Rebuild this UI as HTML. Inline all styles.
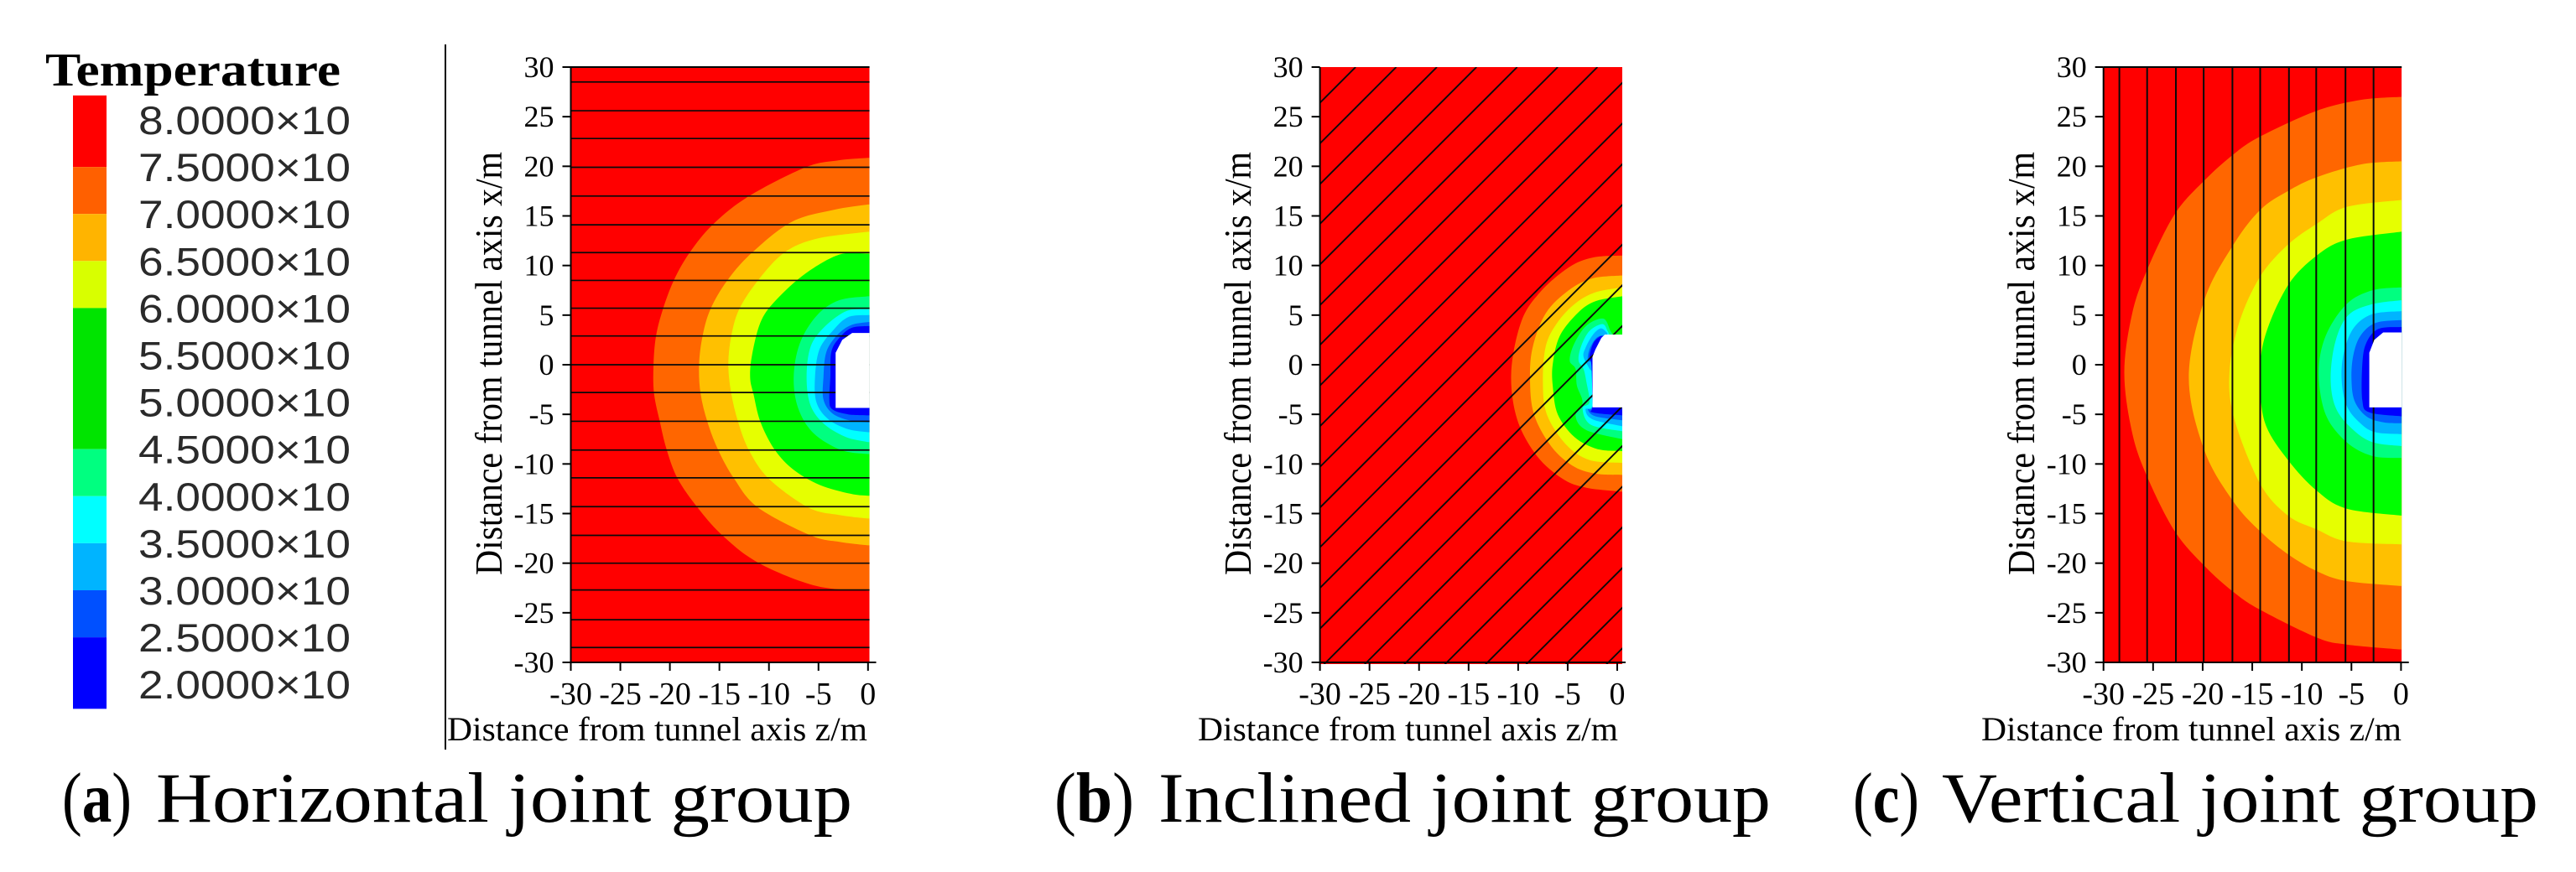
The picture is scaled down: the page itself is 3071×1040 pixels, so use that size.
<!DOCTYPE html>
<html lang="en">
<head>
<meta charset="utf-8">
<title>Temperature contours for joint groups</title>
<style>
html,body{margin:0;padding:0;background:#fff;width:3071px;height:1040px;overflow:hidden}
svg{display:block}
</style>
</head>
<body>
<svg id="figure" xmlns="http://www.w3.org/2000/svg" width="3071" height="1040" viewBox="0 0 3071 1040"></svg>
<script>
// ---- data (z = distance on x axis, x = distance on y axis, metres) ----
const tickValues = [-30,-25,-20,-15,-10,-5,0];
const yTickValues = [30,25,20,15,10,5,0,-5,-10,-15,-20,-25,-30];
const contourLevels = [75,70,65,60,45,40,35,30,25];
const legendLabels = ['8.0000×10','7.5000×10','7.0000×10','6.5000×10','6.0000×10','5.5000×10','5.0000×10','4.5000×10','4.0000×10','3.5000×10','3.0000×10','2.5000×10','2.0000×10'];
const legendValues = [80,75,70,65,60,55,50,45,40,35,30,25,20];
const legendEdges = [82.6,75,70,65,60,45,40,35,30,25,17.4];
const legendColors = ['#ff0000','#ff6000','#ffb400','#d8ff00','#00e400','#00ff80','#00ffff','#00b4ff','#0050ff','#0000ff'];
const bandColors = ['#ff6600','#ffc000','#e6ff00','#00ff00','#00ff80','#00ffff','#00b4ff','#0060ff','#0000ff'];

const horizontalJoints = [28.5,25.6,22.8,19.9,17,14.1,11.3,8.5,5.7,2.9,0,-2.8,-5.7,-8.6,-11.4,-14.3,-17.2,-20,-22.7,-25.7,-28.5];
const inclinedJoints = [56.4,52.3,48.2,44.2,40.1,36,32,27.9,23.8,19.7,15.6,11.6,7.5,3.4,-0.6,-4.7,-8.7,-12.8,-16.9,-21,-25,-29.1];
const verticalJoints = [-28.4,-25.6,-22.7,-19.9,-17,-14.2,-11.3,-8.55,-5.6,-2.77];

const contoursA = [
 [[0,20.85],[-3,20.6],[-6.3,19.9],[-12,17],[-15.6,14.2],[-18,11.3],[-19.6,8.5],[-20.7,5.6],[-21.4,2.9],[-21.65,0],[-21.6,-2.9],[-21,-5.8],[-20.3,-8.65],[-19.2,-11.5],[-17.2,-14.4],[-14.7,-17.2],[-11,-20],[-5.2,-22.3],[0,-22.8]],
 [[0,16.15],[-3.5,15.6],[-7.7,14.4],[-11.7,11.3],[-14.2,8.5],[-15.9,5.6],[-16.7,2.9],[-17.05,0],[-16.9,-2.9],[-16.2,-5.8],[-15.1,-8.65],[-13.5,-11.5],[-11.1,-14.4],[-5.8,-17.2],[-2.9,-17.85],[0,-18.2]],
 [[0,13.4],[-5.2,12.7],[-8.45,11.3],[-11.1,8.5],[-13,5.6],[-13.8,2.9],[-14.1,0],[-13.8,-2.9],[-13.1,-5.8],[-12,-8.65],[-10,-11.5],[-6,-14.4],[-2.9,-15.15],[0,-15.5]],
 [[0,11.2],[-2.9,11.1],[-6.3,9.2],[-9.2,6.6],[-10.8,4.4],[-11.7,1],[-11.9,-1.3],[-11.55,-3],[-10.85,-5.8],[-9.4,-8.6],[-7.5,-10.6],[-4.9,-12.1],[-1.8,-13],[0,-13.2]],
 [[0,6.9],[-2.95,6.48],[-5.2,4.93],[-6.9,2.1],[-7.5,-1.27],[-7.05,-4.37],[-5.5,-6.9],[-2.7,-8.6],[0,-9]],
 [[0,5.6],[-2.2,5.4],[-4.4,3.8],[-5.8,1.8],[-6.2,-1.27],[-5.8,-4.1],[-4.4,-6],[-2.2,-7.3],[0,-7.8]],
 [[0,5],[-2,4.8],[-3.5,3.5],[-4.9,1.55],[-5.35,-1.27],[-5.2,-3.8],[-4,-5.5],[-2,-6.5],[0,-6.8]],
 [[0,4.3],[-1.7,4],[-3.1,3],[-4.2,1.3],[-4.5,-1.27],[-4.5,-3.5],[-3.6,-4.9],[-1.9,-5.6],[0,-5.8]],
 [[0,3.9],[-1.7,3.7],[-2.9,2.7],[-3.7,1.3],[-3.8,-1.27],[-3.9,-3.5],[-3.6,-4.5],[-2,-5],[0,-5.1]]
];
const contoursB = [
 [[0.5,11],[-2.5,10.8],[-4.9,9.8],[-7.8,7.3],[-9.7,4.3],[-10.7,-0.8],[-10.1,-5.5],[-8.1,-9.2],[-5.5,-11.5],[-3.1,-12.4],[0.5,-12.8]],
 [[0.5,9],[-2.5,8.7],[-4.9,7.5],[-7.2,5.2],[-8.5,1.9],[-8.8,-1.3],[-8.4,-5],[-6.6,-8.3],[-4.3,-10.3],[-2,-11],[0.5,-11.1]],
 [[0.5,7.8],[-2.2,7.3],[-4.2,6.2],[-6,4.3],[-7.2,1.9],[-7.5,-1.8],[-7.1,-5],[-5.2,-8],[-2.8,-9.6],[0.5,-9.9]],
 [[0.5,6.9],[-2.2,6.4],[-4,5.2],[-5.8,2.9],[-6.5,0.1],[-6.5,-2.2],[-6,-5],[-4.3,-7.3],[-2,-8.5],[0.5,-8.7]],
 [[-0.4,3],[-0.68,3.4],[-1.4,4.65],[-3.1,3.95],[-4.35,2.1],[-4.8,0.42],[-4.2,-0.42],[-4.07,-2.1],[-3.5,-3.8],[-4.2,-5.2],[-3.1,-6.6],[0.5,-7.5]],
 [[-0.8,3],[-0.97,3.4],[-1.5,4.1],[-2.8,3.4],[-3.65,1.85],[-3.9,0.42],[-3.4,-0.42],[-3.1,-1.8],[-2.8,-3.8],[-3.5,-4.4],[-2.66,-6.05],[0.5,-6.7]],
 [[-1,3],[-1.1,3.3],[-1.7,3.66],[-2.5,2.96],[-3.2,1.7],[-3.4,0.8],[-2.8,-0.4],[-2.5,-1],[-2.5,-4.1],[-3.2,-4.5],[-2.5,-5.5],[0.5,-6.2]],
 [[-1.25,3],[-2.1,2.7],[-2.8,1.55],[-2.96,0.42],[-2.5,-0.1],[-2.5,-4.1],[-2.96,-4.5],[-2.2,-5.2],[0.5,-5.6]],
 [[-1.7,2.9],[-2.4,2.2],[-2.8,0.8],[-2.6,-0.1],[-2.5,-4.1],[-2.5,-4.8],[0.5,-5.1]]
];
const contoursC = [
 [[0,27],[-4,26.7],[-8.5,25.6],[-14.2,23],[-16.9,21.2],[-19.8,18.6],[-22.8,15.2],[-25.5,9.8],[-27.1,5.2],[-27.9,-0.8],[-27.1,-6.9],[-25.5,-11.5],[-22.8,-16.8],[-19.8,-20.3],[-16.9,-22.9],[-14.2,-24.7],[-8.5,-27.5],[-5.5,-28.2],[0,-28.7]],
 [[0,20.5],[-4,20.2],[-8.5,18.9],[-11.4,17.5],[-14.2,15.6],[-16.9,12.1],[-19.8,6.6],[-21.4,-1.3],[-19.8,-8.7],[-16.9,-13.8],[-14.2,-16.8],[-11.4,-19.1],[-8.5,-20.8],[-5.5,-21.8],[0,-22.3]],
 [[0,16.6],[-5.5,15.9],[-8.5,14.2],[-11.4,12.1],[-14.2,8.9],[-16.3,4.3],[-17.3,-0.8],[-16.8,-5.5],[-14.2,-12],[-11.4,-15.2],[-8.5,-16.6],[-5.5,-17.8],[0,-18.1]],
 [[0,13.4],[-5.5,12.6],[-8.5,11],[-11.4,8],[-13.7,2.9],[-14.2,-1.3],[-13.7,-5.9],[-11.4,-9.6],[-8.5,-12.7],[-5.5,-14.5],[0,-15.2]],
 [[0,7.8],[-2.9,7.5],[-5.5,6.1],[-7.6,2.9],[-8.3,-0.8],[-7.6,-5],[-5.5,-7.8],[-2.9,-9.2],[0,-9.4]],
 [[0,6.5],[-2.9,6.1],[-5.3,5],[-6.6,2.4],[-7.1,-1.3],[-6.6,-4.3],[-5,-6.4],[-2.9,-7.8],[0,-8.2]],
 [[0,5.4],[-2.9,5.1],[-4.7,3.8],[-5.7,1.5],[-6,-1.3],[-5.5,-4.1],[-4.1,-5.9],[-2.6,-6.8],[0,-7]],
 [[0,4.5],[-2.6,4.2],[-4.1,2.9],[-4.8,1],[-5,-1.3],[-4.7,-3.6],[-3.5,-5.2],[-1.8,-5.8],[0,-5.9]],
 [[0,3.8],[-2.3,3.6],[-3.5,2.2],[-3.9,0.1],[-3.9,-3.6],[-3.2,-4.8],[0,-5.2]]
];
const tunnelA = [[0.2,3.2],[-1.6,3.2],[-2.6,2.5],[-3.27,1.2],[-3.27,-4.35],[0.2,-4.35]];
const tunnelB = [[0.55,3.04],[-1.25,3.04],[-1.6,2.7],[-2.2,1.55],[-2.5,0.8],[-2.5,-4.3],[0.55,-4.3]];
const tunnelC = [[0.1,3.25],[-1.8,3.25],[-2.7,2.5],[-3.2,1.2],[-3.2,-4.3],[0.1,-4.3]];

// ---- helpers ----
const NS = 'http://www.w3.org/2000/svg';
const root = document.getElementById('figure');
function node(tag, parent, attrs, txt){
  const e = document.createElementNS(NS, tag);
  for (const k in attrs) e.setAttribute(k, attrs[k]);
  if (txt !== undefined) e.textContent = txt;
  parent.appendChild(e);
  return e;
}
const SERIF = '"Liberation Serif", serif';
const SANS = '"Liberation Sans", sans-serif';
const TOP = 80, BOTTOM = 790;
const sy = v => BOTTOM - (v + 30) * (BOTTOM - TOP) / 60;

function smooth(pts){
  let d = '';
  for (let i = 0; i < pts.length - 1; i++){
    const p0 = pts[Math.max(i-1,0)], p1 = pts[i], p2 = pts[i+1], p3 = pts[Math.min(i+2,pts.length-1)];
    const c1 = [p1[0]+(p2[0]-p0[0])/6, p1[1]+(p2[1]-p0[1])/6];
    const c2 = [p2[0]-(p3[0]-p1[0])/6, p2[1]-(p3[1]-p1[1])/6];
    d += 'C'+c1[0].toFixed(1)+' '+c1[1].toFixed(1)+' '+c2[0].toFixed(1)+' '+c2[1].toFixed(1)+' '+p2[0].toFixed(1)+' '+p2[1].toFixed(1);
  }
  return d;
}

function drawPanel(cfg){
  const sx = v => cfg.xMin + (v + 30) * (cfg.xZero - cfg.xMin) / 30;
  const g = node('g', root, {});
  
  

  const clipId = cfg.name + '-clip';
  const defs = node('defs', g, {});
  const cp = node('clipPath', defs, {id: clipId});
  node('rect', cp, {x: cfg.xMin, y: TOP, width: cfg.right - cfg.xMin, height: cfg.plotBottom - TOP});

  const plot = node('g', g, {'clip-path': 'url(#' + clipId + ')'});
  
  

  const bg = node('rect', plot, {x: cfg.xMin, y: TOP, width: cfg.right - cfg.xMin, height: cfg.plotBottom - TOP, fill: '#ff0000'});
  
  

  cfg.contours.forEach((c, i) => {
    const pts = c.map(p => [sx(p[0]), sy(p[1])]);
    const first = pts[0], last = pts[pts.length-1];
    const d = 'M' + cfg.right + ' ' + first[1].toFixed(1) + 'L' + first[0].toFixed(1) + ' ' + first[1].toFixed(1) + smooth(pts) + 'L' + cfg.right + ' ' + last[1].toFixed(1) + 'Z';
    const band = node('path', plot, {d: d, fill: bandColors[i]});
    
    
  });

  const joints = node('g', plot, {stroke: '#0a0a0a', 'stroke-width': cfg.jointWidth, fill: 'none'});
  
  
  cfg.joints.forEach(v => {
    let x1, y1, x2, y2;
    if (cfg.kind === 'h'){ x1 = sx(-30); x2 = sx(1); y1 = y2 = sy(v); }
    else if (cfg.kind === 'v'){ x1 = x2 = sx(v); y1 = TOP; y2 = BOTTOM + 2; }
    else {
      const zLo = Math.max(-30, -30.2 - v), zHi = Math.min(1, 30 - v);
      x1 = sx(zLo); y1 = sy(v + zLo); x2 = sx(zHi); y2 = sy(v + zHi);
    }
    const ln = node('line', joints, {x1: x1, y1: y1, x2: x2, y2: y2});
    
    
  });

  const tp = cfg.tunnel.map(p => sx(p[0]).toFixed(1) + ' ' + sy(p[1]).toFixed(1));
  const tun = node('path', plot, {d: 'M' + tp.join('L') + 'Z', fill: '#fff'});
  
  

  const ax = node('g', g, {stroke: '#000', 'stroke-width': 2, fill: 'none'});
  
  
  node('line', ax, {x1: cfg.xMin, y1: TOP, x2: cfg.xMin, y2: BOTTOM});
  node('line', ax, {x1: cfg.xMin, y1: BOTTOM, x2: cfg.axisEnd, y2: BOTTOM});
  if (cfg.topLine) node('line', ax, {x1: cfg.xMin, y1: TOP, x2: cfg.right, y2: TOP});

  yTickValues.forEach(v => {
    node('line', ax, {x1: cfg.xMin - 10, y1: sy(v), x2: cfg.xMin, y2: sy(v)});
    const t = node('text', g, {x: cfg.xMin - 20, y: sy(v) + 12, 'text-anchor': 'end', 'font-family': SERIF, 'font-size': 36, fill: '#000'}, String(v));
    
    
  });
  tickValues.forEach(v => {
    node('line', ax, {x1: sx(v), y1: BOTTOM, x2: sx(v), y2: BOTTOM + 10});
    const t = node('text', g, {x: sx(v), y: 840, 'text-anchor': 'middle', 'font-family': SERIF, 'font-size': 38, fill: '#000'}, String(v));
    
    
  });

  const xt = node('text', g, {x: cfg.xTitleStart, y: 883, 'font-family': SERIF, 'font-size': 40, fill: '#000', textLength: cfg.xTitleLen, lengthAdjust: 'spacingAndGlyphs'}, 'Distance from tunnel axis z/m');
  
  

  const yt = node('text', g, {transform: 'translate(' + cfg.yTitleX + ' 686) rotate(-90)', 'font-family': SERIF, 'font-size': 46, fill: '#000', textLength: 505, lengthAdjust: 'spacingAndGlyphs'}, 'Distance from tunnel axis x/m');
  
  
}

// ---- legend ----
const legendY = v => 143 + (80 - v) * 56.1 / 5;
const legend = node('g', root, {});


const legendTitle = node('text', legend, {x: 54, y: 102, 'font-family': SERIF, 'font-weight': 'bold', 'font-size': 56, fill: '#000', textLength: 352, lengthAdjust: 'spacingAndGlyphs'}, 'Temperature');


legendColors.forEach((c, i) => {
  const y1 = legendY(legendEdges[i]), y2 = legendY(legendEdges[i+1]);
  const r = node('rect', legend, {x: 87, y: y1, width: 40, height: y2 - y1, fill: c});
  
  
});
legendLabels.forEach((s, i) => {
  const t = node('text', legend, {x: 165, y: legendY(legendValues[i]) + 17, 'font-family': SANS, 'font-size': 47, fill: '#2a2a2a', textLength: 253, lengthAdjust: 'spacingAndGlyphs'}, s);
  
  
});
const divider = node('line', root, {x1: 531, y1: 53, x2: 531, y2: 894, stroke: '#000', 'stroke-width': 2});



// ---- panels ----
drawPanel({name:'horizontal', kind:'h', contours:contoursA, joints:horizontalJoints, tunnel:tunnelA, xMin:680.5, xZero:1034.8, right:1036.6, plotBottom:790, axisEnd:1044.5, topLine:true, jointWidth:1.7, xTitleStart:533, xTitleLen:501, yTitleX:598});
drawPanel({name:'inclined', kind:'i', contours:contoursB, joints:inclinedJoints, tunnel:tunnelB, xMin:1573.6, xZero:1928, right:1934, plotBottom:792, axisEnd:1938, topLine:false, jointWidth:1.9, xTitleStart:1428, xTitleLen:501, yTitleX:1491});
drawPanel({name:'vertical', kind:'v', contours:contoursC, joints:verticalJoints, tunnel:tunnelC, xMin:2507.7, xZero:2862.4, right:2863.2, plotBottom:790, axisEnd:2871.7, topLine:true, jointWidth:2, xTitleStart:2362, xTitleLen:501, yTitleX:2425});

// ---- captions ----
function caption(letter, rest, x1, len1, x2, len2, name){
  const g = node('g', root, {});
  
  
  const t = node('text', g, {x: x1, y: 980, 'font-family': SERIF, 'font-size': 85, fill: '#000', textLength: len1, lengthAdjust: 'spacingAndGlyphs'});
  node('tspan', t, {}, '(');
  node('tspan', t, {'font-weight': 'bold'}, letter);
  node('tspan', t, {}, ')');
  node('text', g, {x: x2, y: 980, 'font-family': SERIF, 'font-size': 85, fill: '#000', textLength: len2, lengthAdjust: 'spacingAndGlyphs'}, rest);
}
caption('a', 'Horizontal joint group', 74, 83, 186, 830, 'caption-a');
caption('b', 'Inclined joint group', 1257, 95, 1381, 730, 'caption-b');
caption('c', 'Vertical joint group', 2209, 79, 2315, 711, 'caption-c');
</script>
</body>
</html>
